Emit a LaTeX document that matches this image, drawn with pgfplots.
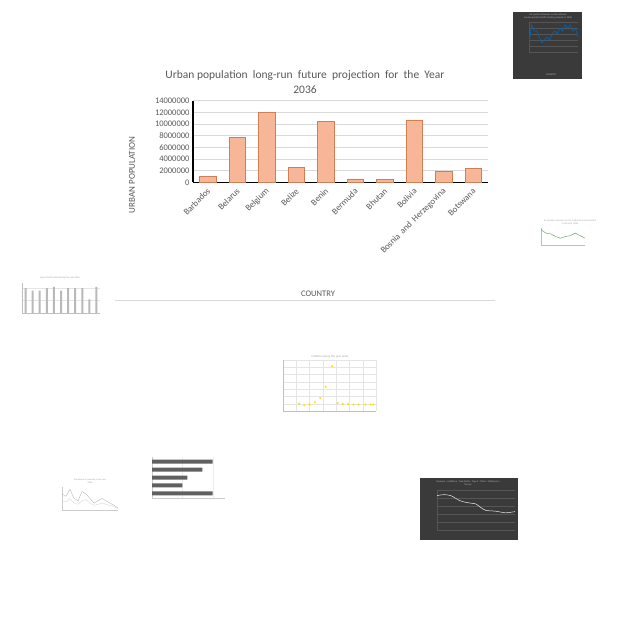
\documentclass[border=0pt]{standalone}
\usepackage{pgfplots}
\pgfplotsset{compat=1.18}
\usepackage{fontspec}
\setmainfont{Carlito}
\definecolor{txt}{HTML}{595959}
\definecolor{barfill}{HTML}{F6B697}
\definecolor{baredge}{HTML}{D07F55}
\definecolor{gridc}{HTML}{D9D9D9}
\definecolor{dark}{HTML}{3A3A3A}
\definecolor{darkgrid}{HTML}{555555}

\pgfplotsset{
  thumb/.style={scale only axis, anchor=north west,
    xticklabels={}, yticklabels={}, major tick length=0pt,
    axis x line*=bottom, axis y line*=left,
    axis line style={-, draw=#1, line width=0.3pt},
    grid style={line width=0.2pt}},
}

\begin{document}
\begin{tikzpicture}
\fill[white] (0pt,0pt) rectangle (640pt,-640pt);

% ---- main chart ----
\node[text=txt, font=\fontsize{11.5}{13}\selectfont] at (305pt,-75pt) {Urban population\ \ long-run\ \ future\ \ projection\ \ for\ \ the\ \ Year};
\node[text=txt, font=\fontsize{11.5}{13}\selectfont] at (305pt,-90pt) {2036};
\node[text=txt, rotate=90, font=\fontsize{9}{10}\selectfont] at (132pt,-175pt) {URBAN POPULATION};
\node[text=txt, font=\fontsize{8.5}{10}\selectfont] at (318pt,-294pt) {COUNTRY};
\draw[gridc, line width=0.8pt] (115pt,-300pt) -- (495pt,-300pt);

\begin{axis}[
  at={(193pt,-182.3pt)}, anchor=south west,
  scale only axis, width=295pt, height=81.6pt,
  ybar, bar width=16.5pt,
  xmin=-0.5, xmax=9.5, ymin=0, ymax=14000000,
  ytick distance=2000000,
  scaled y ticks=false,
  /pgf/number format/assume math mode=true,
  yticklabel style={/pgf/number format/fixed, /pgf/number format/1000 sep={},
    font=\fontsize{8.5}{9}\selectfont, text=txt},
  xtick=data,
  xticklabels={Barbados,Belarus,Belgium,Belize,Benin,Bermuda,Bhutan,Bolivia,Bosnia\ \,and\ \,Herzegovina,Botswana},
  xticklabel style={yshift=-5pt, xshift=3.5pt, rotate=45, anchor=east,
    font=\fontsize{8.8}{9}\selectfont, text=txt},
  major tick length=0pt,
  axis x line*=bottom, axis y line*=left,
  axis line style={-, black, line width=1.3pt},
  ymajorgrids, grid style={gridc, line width=0.6pt},
]
\addplot[fill=barfill, draw=baredge, line width=0.8pt] coordinates {
  (0,1000000)(1,7650000)(2,12050000)(3,2570000)(4,10450000)
  (5,570000)(6,450000)(7,10700000)(8,1900000)(9,2400000)};
\end{axis}

% ---- thumbnail: dark line chart, top right ----
\fill[dark] (513pt,-12pt) rectangle (582pt,-79pt);
\node[text=gray!60, font=\fontsize{2.5}{3}\selectfont, align=center] at (548pt,-16pt) {Air quality Measures on the national\\environmental health tracking network in 2036};
\node[text=gray!60, font=\fontsize{2.5}{3}\selectfont] at (551pt,-75pt) {COUNTRY};
\begin{axis}[thumb=darkgrid, at={(529pt,-22pt)}, width=49pt, height=30pt,
  xmin=0, xmax=19, ymin=0, ymax=10, ymajorgrids, grid style={darkgrid}]
\addplot[color=blue!45!cyan!70!black, line width=0.7pt] coordinates {
  (0,3)(1,9)(2,7)(3,7)(4,5)(5,3)(6,4)(7,5)(8,4)(9,6)(10,7)(11,6)
  (12,8)(13,7)(14,9)(15,8)(16,9)(17,7)(18,8)(19,5)};
\end{axis}

% ---- thumbnail: green line, right ----
\node[text=gray!70, font=\fontsize{2.5}{3}\selectfont, align=center] at (570pt,-222pt) {Air quality measures on the national environmental\\in the year 2036};
\begin{axis}[thumb=gray!50, at={(541pt,-228pt)}, width=44pt, height=17pt,
  xmin=0, xmax=9, ymin=0, ymax=10]
\addplot[color=green!45!black!60, line width=0.5pt] coordinates {
  (0,9)(1,7)(2,6.5)(3,5)(4,4)(5,5)(6,5.5)(7,7)(8,5.5)(9,4)};
\end{axis}

% ---- thumbnail: grey bars, left ----
\node[text=gray!70, font=\fontsize{2.5}{3}\selectfont] at (60pt,-278pt) {Agricultural index during the year 2036};
\begin{axis}[thumb=gray!50, at={(22pt,-283pt)}, width=78pt, height=30pt,
  ybar, bar width=2pt, xmin=-0.5, xmax=10.5, ymin=0, ymax=12,
  ymajorgrids, grid style={gray!20}]
\addplot[fill=gray!55, draw=none] coordinates {
  (0,10)(1,9)(2,9)(3,10)(4,10.5)(5,9)(6,10)(7,10)(8,10)(9,5.5)(10,10.5)};
\end{axis}

% ---- thumbnail: yellow scatter, centre ----
\node[text=gray!70, font=\fontsize{3}{3.5}\selectfont] at (330pt,-357pt) {Inflation during the year Israel};
\begin{axis}[thumb=gray!50, at={(283pt,-360pt)}, width=93pt, height=51pt,
  xmin=1950, xmax=2020, ymin=0, ymax=350, xtick distance=10, ytick distance=50,
  ymajorgrids, xmajorgrids, grid style={gray!20}]
\addplot[only marks, mark=*, mark size=0.8pt, color=yellow!80!orange] coordinates {
  (1962,50)(1966,40)(1970,45)(1974,62)(1978,90)(1982,166)(1987,307)
  (1991,55)(1995,48)(1999,48)(2003,44)(2007,44)(2012,44)(2016,44)(2018,44)};
\end{axis}

% ---- thumbnail: grey lines, bottom left ----
\node[text=gray!70, font=\fontsize{2.3}{3}\selectfont, align=center] at (90pt,-481pt) {Prevalence of anaemia in the year\\2036};
\begin{axis}[thumb=gray!40, at={(62pt,-487pt)}, width=56pt, height=23pt,
  xmin=0, xmax=14, ymin=0, ymax=10]
\addplot[color=gray!55, line width=0.4pt] coordinates {
  (0,7)(1,6)(2,9)(3,5)(4,4)(5,8)(6,7)(7,5)(8,3)(9,4)(10,5)(11,4)(12,3)(13,2)(14,1)};
\addplot[color=gray!30, line width=0.4pt] coordinates {
  (0,4)(1,3.5)(2,5)(3,3)(4,2.5)(5,4)(6,4.5)(7,3)(8,2)(9,2.5)(10,3)(11,2.5)(12,2)(13,1.5)(14,0.5)};
\end{axis}

% ---- thumbnail: horizontal bars ----
\begin{axis}[thumb=gray!40, at={(152pt,-457pt)}, width=73pt, height=41pt,
  xbar, bar width=4pt, ymin=-0.6, ymax=4.6, xmin=0, xmax=120,
  xmajorgrids, grid style={gray!15}]
\addplot[fill=gray!75!black, draw=none] coordinates {
  (99.6,0)(50,1)(58,2)(83,3)(99.6,4)};
\end{axis}

% ---- thumbnail: dark line chart, bottom right ----
\fill[dark] (420pt,-478pt) rectangle (518pt,-540pt);
\node[text=gray!60, font=\fontsize{2.5}{3}\selectfont, align=center] at (468pt,-483pt) {Measure -- Methane : Tree Fields : Type 2 : Cities : Methane in\\Tonnes};
\begin{axis}[thumb=darkgrid, at={(437pt,-490pt)}, width=78pt, height=40pt,
  xmin=0, xmax=16, ymin=0, ymax=10, ymajorgrids, grid style={darkgrid}]
\addplot[color=white!85!gray, line width=0.5pt, smooth] coordinates {
  (0,8.6)(1,8.8)(2,8.8)(3,8.5)(4,7.8)(5,7.2)(6,6.9)(7,6.7)(8,6.5)
  (9,5.6)(10,4.9)(11,4.8)(12,4.7)(13,4.5)(14,4.3)(15,4.4)(16,4.6)};
\end{axis}
\end{tikzpicture}
\end{document}
